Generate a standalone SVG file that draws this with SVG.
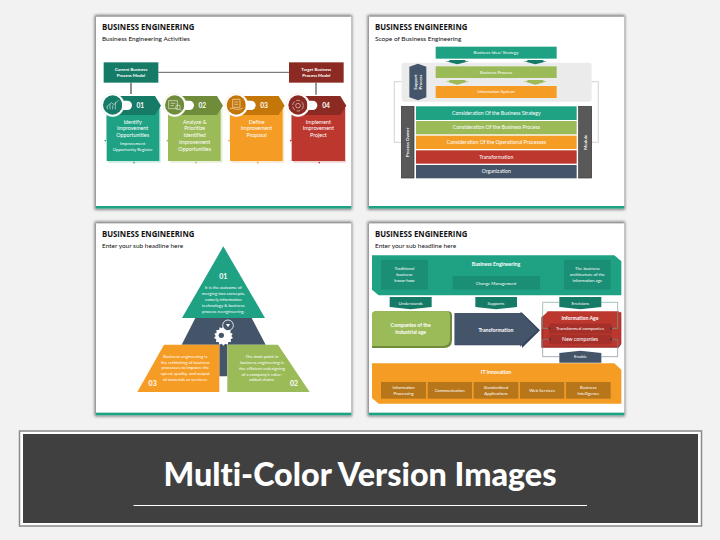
<svg xmlns="http://www.w3.org/2000/svg" width="720" height="540" viewBox="0 0 720 540">
<style>
text{font-family:Lato,"Liberation Sans",sans-serif;fill:#fff;text-anchor:middle;font-size:13px;font-variant-ligatures:none}
.h{font-family:"Open Sans",Lato,sans-serif;fill:#111;text-anchor:start;font-weight:700;font-size:24px}
.s{fill:#111;text-anchor:start;font-size:19.500px}
.b{font-weight:700}
.c{font-size:15.500px}
.d{font-size:16px}
.m{font-size:13.800px}
.n{font-weight:700;font-size:20px}
.panel{fill:#fff}
.shade{fill:#777;filter:url(#blur)}
.bar{fill:#1fa283}
.teal{fill:#1fa283}.tealD{fill:#157a66}
.green{fill:#9bbb59}.greenD{fill:#6f8c3a}
.orange{fill:#f59c25}.orangeD{fill:#c47708}
.red{fill:#bc372e}.redD{fill:#8a2a22}
.navy{fill:#445469}
.grey{fill:#595959}
.link{fill:none;stroke-width:2}
.ic{fill:none;stroke:#fff;stroke-width:1.600}
</style>
<defs>
<filter id="blur" x="-5%" y="-5%" width="110%" height="110%"><feGaussianBlur stdDeviation="4"/></filter>
<pattern id="dots" width="6" height="6" patternUnits="userSpaceOnUse"><circle cx="2" cy="2" r="0.700" fill="#d4d4d4"/></pattern>
<g id="panelBase">
<rect class="shade" x="14" y="15" width="772" height="584"/>
<rect class="panel" x="18" y="20" width="766" height="576"/>
<rect class="bar" x="18" y="588" width="766" height="8"/>
</g>
<g id="card">
<path d="M54 294H212V458H54Z" opacity=".22" fill="currentColor"/>
<circle cx="46" cy="392" r="2.500" fill="currentColor"/>
<circle cx="132" cy="458" r="2.500" fill="currentColor"/>
<rect x="48" y="292" width="2" height="100" fill="currentColor" opacity=".5"/>
</g>
</defs>
<rect width="720" height="540" fill="#f2f2f2"/>

<g id="slide1" transform="translate(90,10) scale(.33333)">
<use href="#panelBase"/>
<text class="h" x="36" y="60" textLength="277" lengthAdjust="spacingAndGlyphs">BUSINESS ENGINEERING</text>
<text class="s" x="36" y="92">Business Engineering Activities</text>
<g id="s1-connectors">
<path d="M205 187H597" class="link" stroke="#111"/>
<path d="M123 218V252" class="link" stroke="#555" style="stroke-width:4"/>
<path d="M678 218V254" class="link" stroke="#666" style="stroke-width:4"/>
</g>
<g id="current-model"><rect class="tealD" x="41" y="157" width="164" height="61"/><text class="b" x="123" y="184">Current Business</text><text class="b" x="123" y="202">Process Model</text></g>
<g id="target-model"><rect class="redD" x="597" y="157" width="164" height="61"/><text class="b" x="679" y="184">Target Business</text><text class="b" x="679" y="202">Process Model</text></g>

<g id="step1" color="#1fa283">
<use href="#card"/>
<rect class="teal" x="50" y="290" width="158" height="163"/>
<path class="tealD" d="M65 258H195L213 287L195 315H65Z"/>
<circle cx="68" cy="285" r="35" fill="#fff" stroke="#cfd8d4"/><circle class="tealD" cx="68" cy="285" r="29"/>
<path class="ic" d="M52 298V288M60 298V282M68 298V286M76 298V276M50 290L64 278L72 284L86 270"/>
<path d="M96 272H112a14 14 0 0 1 0 28H96Z" fill="#fff"/>
<text class="n" x="151" y="293">01</text>
<text class="d" x="128" y="341">Identify</text><text class="d" x="128" y="361">Improvement</text><text class="d" x="128" y="381">Opportunities</text>
<text x="128" y="405">Improvement</text><text x="128" y="424">Opportunity Register</text>
</g>
<g id="step2" color="#9bbb59">
<use href="#card" x="186"/>
<rect class="green" x="234" y="290" width="158" height="163"/>
<path class="greenD" d="M251 258H381L399 287L381 315H251Z"/>
<circle cx="254" cy="285" r="35" fill="#fff" stroke="#d3dcc0"/><circle class="greenD" cx="254" cy="285" r="29"/>
<path class="ic" d="M236 272H262V296H236ZM242 280H256M242 287H252"/><circle class="ic" cx="264" cy="292" r="7"/><path class="ic" d="M269 297L277 305"/>
<path d="M282 272H298a14 14 0 0 1 0 28H282Z" fill="#fff"/>
<text class="n" x="337" y="293">02</text>
<text class="d" x="314" y="341">Analyze &amp;</text><text class="d" x="314" y="361">Prioritize</text><text class="d" x="314" y="381">Identified</text><text class="d" x="314" y="402">Improvement</text><text class="d" x="314" y="422">Opportunities</text>
</g>
<g id="step3" color="#f59c25">
<use href="#card" x="371"/>
<rect class="orange" x="420" y="290" width="158" height="163"/>
<path class="orangeD" d="M436 258H566L584 287L566 315H436Z"/>
<circle cx="439" cy="285" r="35" fill="#fff" stroke="#eddcc0"/><circle class="orangeD" cx="439" cy="285" r="29"/>
<path class="ic" d="M428 268H450V292H428ZM433 276H445M433 283H445M420 296C430 292 440 304 458 294"/>
<path d="M467 272H483a14 14 0 0 1 0 28H467Z" fill="#fff"/>
<text class="n" x="522" y="293">03</text>
<text class="d" x="500" y="341">Define</text><text class="d" x="500" y="361">Improvement</text><text class="d" x="500" y="381">Proposal</text>
</g>
<g id="step4" color="#bc372e">
<use href="#card" x="556"/>
<rect class="red" x="605" y="290" width="160" height="163"/>
<path class="redD" d="M621 258H751L769 287L751 315H621Z"/>
<circle cx="624" cy="285" r="35" fill="#fff" stroke="#e6cfcc"/><circle class="redD" cx="624" cy="285" r="29"/>
<circle class="ic" cx="624" cy="287" r="16" stroke-dasharray="12 5"/><circle class="ic" cx="624" cy="287" r="7"/>
<path d="M652 272H668a14 14 0 0 1 0 28H652Z" fill="#fff"/>
<text class="n" x="708" y="293">04</text>
<text class="d" x="685" y="341">Implement</text><text class="d" x="685" y="361">Improvement</text><text class="d" x="685" y="381">Project</text>
</g>
</g>

<g id="slide2" transform="translate(362,10) scale(.33333)">
<g transform="translate(3,0)"><use href="#panelBase"/></g>
<text class="h" x="39" y="60" textLength="277" lengthAdjust="spacingAndGlyphs">BUSINESS ENGINEERING</text>
<text class="s" x="39" y="92">Scope of Business Engineering</text>
<g id="s2-connectors">
<path class="link" stroke="#bbb" d="M119 215H97V397H118M689 215H709V397H689"/>
</g>
<g id="support-area"><rect x="119" y="158" width="570" height="117" rx="8" fill="#ececec"/><rect x="119" y="158" width="570" height="117" rx="8" fill="url(#dots)"/></g>
<g id="strategy"><rect class="teal" x="221" y="110" width="363" height="36"/><text x="402" y="132">Business-Idea/ Strategy</text></g>
<g id="strategy-arrows" class="tealD"><path d="M262 150H310V154H322L286 163L250 154H262Z"/><path d="M496 150H544V154H556L520 163L484 154H496Z"/></g>
<g id="support-process"><path class="navy" d="M142 170L168 161L193 170V262L168 271L142 262Z"/><g transform="translate(168,216) rotate(-90)"><text class="b" y="-4">Support</text><text class="b" y="12">Process</text></g></g>
<g id="business-process"><rect class="green" x="221" y="169" width="363" height="35"/><text x="402" y="191">Business Process</text></g>
<g id="process-arrows" class="green"><path d="M262 210H310V214H322L286 224L250 214H262Z"/><path d="M496 210H544V214H556L520 224L484 214H496Z"/></g>
<g id="information-system"><rect class="orange" x="221" y="228" width="363" height="36"/><text x="402" y="250">Information System</text></g>
<g id="process-owner"><rect class="grey" x="118" y="289" width="38" height="215" stroke="#333" stroke-width="2"/><text class="b" transform="translate(142,397) rotate(-90)">Process Owner</text></g>
<g id="module"><rect class="grey" x="650" y="289" width="39" height="215" stroke="#333" stroke-width="2"/><text class="b" transform="translate(675,397) rotate(-90)">Module</text></g>
<g id="layer1"><rect class="teal" x="162" y="289" width="482" height="41"/><text class="c" x="403" y="315">Consideration Of the Business Strategy</text></g>
<g id="layer2"><rect class="green" x="162" y="333" width="482" height="40"/><text class="c" x="403" y="358">Consideration Of the Business Process</text></g>
<g id="layer3"><rect class="orange" x="162" y="377" width="482" height="40"/><text class="c" x="403" y="402">Consideration Of the Operational Processes</text></g>
<g id="layer4"><rect class="red" x="162" y="421" width="482" height="40"/><text class="c" x="403" y="446">Transformation</text></g>
<g id="layer5"><rect class="navy" x="162" y="465" width="482" height="40"/><text class="c" x="403" y="490">Organization</text></g>
</g>

<g id="slide3" transform="translate(90,218) scale(.33333)">
<g transform="translate(0,-4)"><use href="#panelBase"/></g>
<text class="h" x="36" y="57" textLength="277" lengthAdjust="spacingAndGlyphs">BUSINESS ENGINEERING</text>
<text class="s" x="36" y="89">Enter your sub headline here</text>
<g id="core"><path class="navy" d="M316 300H485L527 380H412V475H388V380H275Z"/>
<path fill="#fff" d="M400 325l5 6 7-3 2 8 8 0-1 8 7 3-4 7 5 6-7 4 1 8-8 0-2 8-7-3-6 6-5-6-7 3-2-8-8 0 1-8-7-4 5-6-4-7 7-3-1-8 8 0 2-8 7 3Z"/>
<circle cx="414" cy="322" r="16" fill="#445469" stroke="#fff" stroke-width="2.500"/><path d="M408 318H420L414 328Z" fill="#fff"/>
<circle cx="394" cy="352" r="8" class="navy"/></g>
<g id="top-01"><path class="teal" d="M400 85L525 300H276Z"/><text class="n" style="font-size:21px" x="400" y="182">01</text>
<text x="400" y="214">It is the outcome of</text><text x="400" y="232">merging two concepts,</text><text x="400" y="250">namely information</text><text x="400" y="267">technology &amp; business</text><text x="400" y="286">process reengineering.</text></g>
<g id="left-03"><path class="orange" d="M222 380H388V522H142Z"/><text x="286" y="419">Business engineering is</text><text x="286" y="437">the rethinking of business</text><text x="286" y="453">processes to improve the</text><text x="286" y="470">speed, quality, and output</text><text x="286" y="490">of materials or services.</text><text class="n" style="font-size:21px" x="188" y="503">03</text></g>
<g id="right-02"><path class="green" d="M412 380H564L659 522H412Z"/><text x="516" y="419">The main point in</text><text x="516" y="437">business engineering is</text><text x="516" y="455">the efficient redesigning</text><text x="516" y="473">of a company's value-</text><text x="516" y="490">added chains.</text><text class="n" style="font-size:21px" x="612" y="503">02</text></g>
</g>

<g id="slide4" transform="translate(362,218) scale(.33333)">
<g transform="translate(3,-4)"><use href="#panelBase"/></g>
<text class="h" x="39" y="57" textLength="277" lengthAdjust="spacingAndGlyphs">BUSINESS ENGINEERING</text>
<text class="s" x="39" y="89">Enter your sub headline here</text>
<g id="business-engineering"><path class="teal" d="M30 112H757L778 130V232H50L30 215Z"/>
<g fill="#1b8f75"><rect x="57" y="125" width="141" height="90"/><rect x="272" y="174" width="262" height="41"/><rect x="606" y="125" width="140" height="90"/></g>
<text x="127" y="157">Traditional</text><text x="127" y="175">business</text><text x="127" y="193">know-how</text>
<text class="b c" x="402" y="145">Business Engineering</text><text x="402" y="200">Change Management</text>
<text x="676" y="157">The business</text><text x="676" y="175">architecture of the</text><text x="676" y="193">information age</text></g>
<g id="understands"><path class="tealD" d="M83 237H209V267L146 274L83 267Z"/><text x="146" y="261">Understands</text></g>
<g id="supports"><path class="tealD" d="M340 237H465V267L402 274L340 267Z"/><text x="402" y="261">Supports</text></g>
<g id="companies"><path class="greenD" d="M30 292Q30 280 42 280H258Q270 280 270 292V366Q270 390 246 390H30Z"/><path class="green" d="M30 292Q30 280 42 280H252Q264 280 264 292V362Q264 384 242 384H30Z"/><text class="b c" x="146" y="326">Companies of the</text><text class="b c" x="146" y="347">Industrial age</text></g>
<g id="transformation"><path fill="#33415a" d="M278 285H478V282L534 337L480 390V382H278Z"/><path class="navy" d="M278 285H474V282L528 336L474 386V380H278Z"/><text class="b c" x="402" y="343">Transformation</text></g>
<g id="information-age"><path fill="#a5302a" d="M538 298L557 283H778V378L770 389H538Z"/><path class="red" d="M544 296L557 280H770L776 290V378L768 384H544Z"/>
<g fill="#a5302a"><rect x="562" y="317" width="187" height="30"/><rect x="562" y="350" width="187" height="29"/></g>
<text class="b c" x="654" y="305">Information Age</text><text class="m" x="654" y="335">Transformed companies</text><text class="c" x="654" y="369">New companies</text></g>
<g id="s4-connectors">
<path class="link" stroke="#6fa899" d="M592 253H542V331H560M718 253H767V331H750"/>
<path class="link" stroke="#7a8694" d="M592 416H542V364H562M718 416H767V364H750"/>
<path d="M560 327L566 331L560 335ZM750 327L744 331L750 335ZM562 360L568 364L562 368ZM750 360L744 364L750 368Z" fill="#333"/>
</g>
<g id="envisions"><path class="tealD" d="M592 237H718V267L655 274L592 267Z"/><text x="655" y="261">Envisions</text></g>
<g id="enable"><path class="navy" d="M592 405L655 398L718 405V434H592Z"/><text x="655" y="419">Enable</text></g>
<g id="it-innovation"><path class="orange" d="M30 436H757L778 455V557H50L30 540Z"/>
<g fill="#b8761a"><rect x="57" y="492" width="135" height="50"/><rect x="197" y="492" width="133" height="50"/><rect x="335" y="492" width="134" height="50"/><rect x="474" y="492" width="133" height="50"/><rect x="612" y="492" width="134" height="50"/></g>
<text class="b c" x="402" y="469">IT Innovation</text>
<text x="125" y="513">Information</text><text x="125" y="531">Processing</text><text x="263" y="522">Communication</text><text x="402" y="513">Standardized</text><text x="402" y="531">Applications</text><text x="540" y="522">Web Services</text><text x="679" y="513">Business</text><text x="679" y="531">Intelligence</text></g>
</g>

<g id="banner">
<rect x="19.500" y="431" width="682" height="95" fill="#fff" stroke="#8a8a8a" stroke-width="1.500"/>
<rect x="23" y="434" width="675" height="89" fill="#404040"/>
<text x="360" y="486" style="font-size:33px;font-weight:900" textLength="393" lengthAdjust="spacingAndGlyphs">Multi-Color Version Images</text>
<path d="M133.500 505.500H587" stroke="#fff" fill="none"/>
</g>
</svg>
